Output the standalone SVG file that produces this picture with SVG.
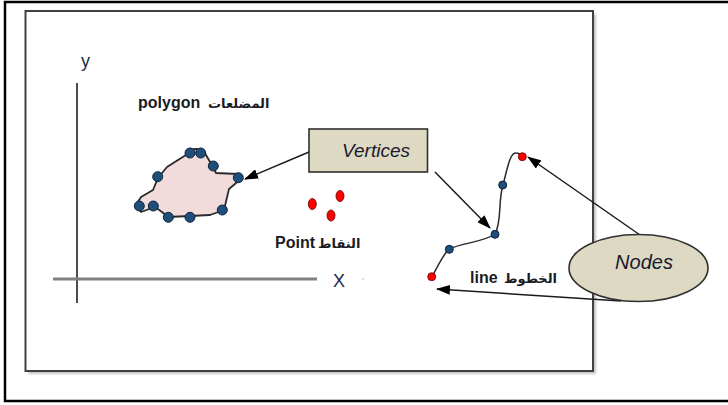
<svg xmlns="http://www.w3.org/2000/svg" width="728" height="405" viewBox="0 0 728 405">
  <style>
    .lbl { font-family: "Liberation Sans", "DejaVu Sans", sans-serif; font-weight: bold; font-size: 16px; fill: #1b1b24; }
    .ar { font-size: 13px; }
    .axis-lbl { font-family: "Liberation Sans", "DejaVu Sans", sans-serif; font-size: 18px; fill: #1c2a48; }
    .callout-txt { font-family: "Liberation Sans", "DejaVu Sans", sans-serif; font-style: italic; fill: #1a1a2e; text-anchor: middle; }
    .callout { fill: #ddd9c3; stroke: #303030; stroke-width: 1.6; }
    .vtx { fill: #1f4e79; stroke: #0c2440; stroke-width: 1; }
    .end { fill: #ff0000; stroke: #6a0000; stroke-width: 0.8; }
    .conn { stroke: #1a1a1a; stroke-width: 1.5; fill: none; marker-end: url(#arrow); }
  </style>
  <defs>
    <marker id="arrow" markerUnits="userSpaceOnUse" markerWidth="14" markerHeight="10" refX="13" refY="5" orient="auto">
      <path d="M0,0 L14,5 L0,10 Z" fill="#000"/>
    </marker>
    <filter id="soft" x="-5%" y="-5%" width="110%" height="110%">
      <feGaussianBlur stdDeviation="1.2"/>
    </filter>
  </defs>

  <!-- page frame -->
  <rect x="5" y="2" width="730" height="399" fill="#fff" stroke="#000" stroke-width="2.5"/>

  <!-- drawing panel with drop shadow -->
  <rect x="28.5" y="14" width="567.5" height="360" fill="#c4c4c4" filter="url(#soft)"/>
  <rect x="25.5" y="11" width="567.5" height="360" fill="#fff" stroke="#404040" stroke-width="2"/>

  <!-- axes -->
  <g id="axes">
    <line x1="77" y1="83" x2="77" y2="303" stroke="#111" stroke-width="1.5"/>
    <line x1="53" y1="279" x2="317" y2="279" stroke="#808080" stroke-width="3"/>
    <text class="axis-lbl" x="81" y="67">y</text>
    <text class="axis-lbl" x="333" y="287">X</text>
    <circle cx="363" cy="279" r="1" fill="#cfcfcf"/>
  </g>

  <!-- polygon feature -->
  <g id="polygon">
    <path d="M190,150 C197,148 203,149 206,155 L213,167 L216,173 L238,174 L242,178 L229,189 L224,210 L210,215 L190,216 L168,217 L162,212 L155,207 L141,212 L136,205 L141,197 L153,190 L158,178 L167,167 L178,160 L186,155 Z"
          fill="#f2dcdb" stroke="#2a2a2a" stroke-width="1.8" stroke-linejoin="round"/>
    <circle class="vtx" cx="190" cy="153" r="5"/>
    <circle class="vtx" cx="200.7" cy="153" r="5"/>
    <circle class="vtx" cx="213.3" cy="166" r="5"/>
    <circle class="vtx" cx="238.3" cy="177.7" r="5"/>
    <circle class="vtx" cx="222.3" cy="210" r="5"/>
    <circle class="vtx" cx="190" cy="217.3" r="5"/>
    <circle class="vtx" cx="168.3" cy="217.3" r="5"/>
    <circle class="vtx" cx="153.3" cy="206" r="5"/>
    <circle class="vtx" cx="139.3" cy="206" r="5"/>
    <circle class="vtx" cx="157.7" cy="176.7" r="5"/>
    <text class="lbl" y="108"><tspan x="138">polygon</tspan><tspan class="ar" x="208">المضلعات</tspan></text>
  </g>

  <!-- point features -->
  <g id="points">
    <ellipse class="end" cx="312.3" cy="204" rx="4" ry="5.5"/>
    <ellipse class="end" cx="340" cy="196" rx="4" ry="5.5"/>
    <ellipse class="end" cx="331" cy="215.5" rx="4" ry="5.5"/>
    <text class="lbl" y="248"><tspan x="275">Point</tspan><tspan class="ar" x="318">النقاط</tspan></text>
  </g>

  <!-- line feature -->
  <g id="line">
    <path d="M432,277 C438,265 443,255 449,249 C462,243 484,242 495,234 C502,222 498,200 503,185 C507,170 510,152 516,153 C519,153 521,155 522,157"
          fill="none" stroke="#2a2a2a" stroke-width="1.5"/>
    <circle class="vtx" cx="449.3" cy="249.3" r="4"/>
    <circle class="vtx" cx="495" cy="234.3" r="4"/>
    <circle class="vtx" cx="502.7" cy="185" r="4"/>
    <circle class="end" cx="431.7" cy="276.7" r="4"/>
    <circle class="end" cx="522.3" cy="156.7" r="4"/>
    <text class="lbl" y="283"><tspan x="470">line</tspan><tspan class="ar" x="504">الخطوط</tspan></text>
  </g>

  <!-- connectors -->
  <g id="connectors">
    <line class="conn" x1="309" y1="152" x2="245" y2="179"/>
    <line class="conn" x1="435" y1="172" x2="490" y2="228"/>
    <line class="conn" x1="640" y1="235" x2="528" y2="157"/>
    <line class="conn" x1="621" y1="301" x2="437" y2="289"/>
  </g>

  <!-- callouts -->
  <g id="vertices">
    <rect class="callout" x="309" y="129" width="118.5" height="43"/>
    <text class="callout-txt" x="376" y="156.5" font-size="19">Vertices</text>
  </g>
  <g id="nodes">
    <ellipse class="callout" cx="638.5" cy="268" rx="69.5" ry="33.5"/>
    <text class="callout-txt" x="644" y="269" font-size="20">Nodes</text>
  </g>
</svg>
